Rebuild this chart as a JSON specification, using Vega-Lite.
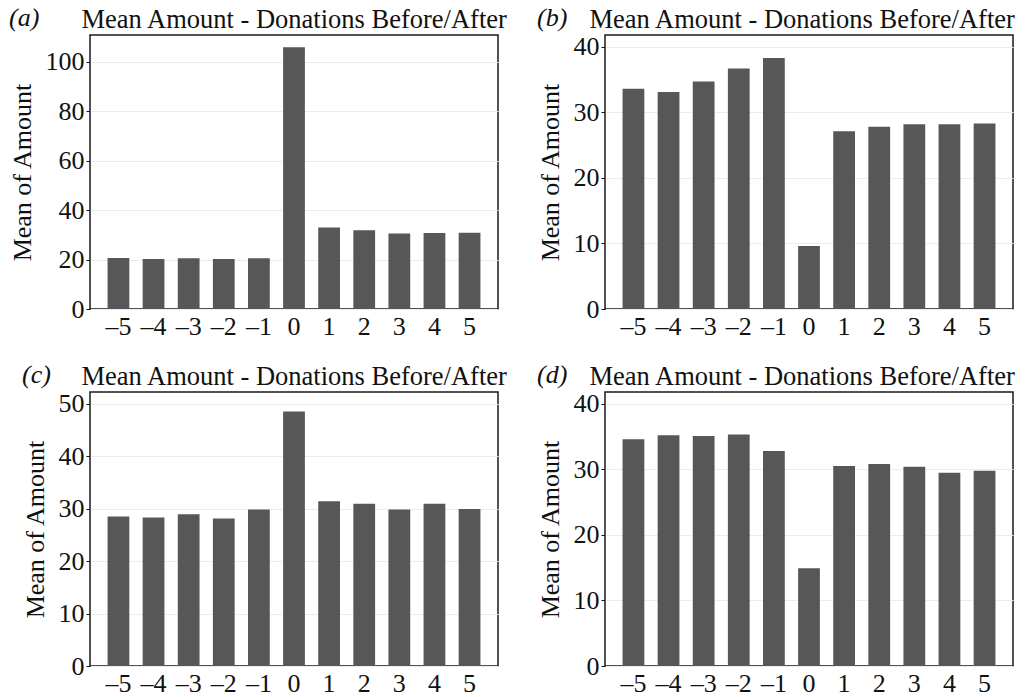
{
  "$schema": "https://vega.github.io/schema/vega-lite/v6.json",
  "background": "white",
  "padding": {"left": 8, "top": 4, "right": 5, "bottom": 5},
  "datasets": {
    "a": [
      {"t": -5, "amount": 20.6}, {"t": -4, "amount": 20.2}, {"t": -3, "amount": 20.5}, {"t": -2, "amount": 20.2}, {"t": -1, "amount": 20.5},
      {"t": 0, "amount": 105.8}, {"t": 1, "amount": 33.0}, {"t": 2, "amount": 31.8}, {"t": 3, "amount": 30.5}, {"t": 4, "amount": 30.7}, {"t": 5, "amount": 30.8}
    ],
    "b": [
      {"t": -5, "amount": 33.6}, {"t": -4, "amount": 33.1}, {"t": -3, "amount": 34.7}, {"t": -2, "amount": 36.7}, {"t": -1, "amount": 38.3},
      {"t": 0, "amount": 9.6}, {"t": 1, "amount": 27.1}, {"t": 2, "amount": 27.8}, {"t": 3, "amount": 28.2}, {"t": 4, "amount": 28.2}, {"t": 5, "amount": 28.3}
    ],
    "c": [
      {"t": -5, "amount": 28.5}, {"t": -4, "amount": 28.3}, {"t": -3, "amount": 28.9}, {"t": -2, "amount": 28.1}, {"t": -1, "amount": 29.8},
      {"t": 0, "amount": 48.5}, {"t": 1, "amount": 31.4}, {"t": 2, "amount": 30.9}, {"t": 3, "amount": 29.8}, {"t": 4, "amount": 30.9}, {"t": 5, "amount": 29.9}
    ],
    "d": [
      {"t": -5, "amount": 34.6}, {"t": -4, "amount": 35.2}, {"t": -3, "amount": 35.1}, {"t": -2, "amount": 35.3}, {"t": -1, "amount": 32.8},
      {"t": 0, "amount": 14.9}, {"t": 1, "amount": 30.5}, {"t": 2, "amount": 30.8}, {"t": 3, "amount": 30.4}, {"t": 4, "amount": 29.5}, {"t": 5, "amount": 29.8}
    ]
  },
  "config": {
    "font": "Liberation Serif",
    "view": {"stroke": "#1a1a1a", "strokeWidth": 1.5},
    "axis": {
      "labelFont": "Liberation Serif", "labelFontSize": 26, "labelColor": "#111",
      "titleFont": "Liberation Serif", "titleFontSize": 26.5, "titleFontWeight": "normal", "titleColor": "#111",
      "tickColor": "#111", "tickSize": 4, "domain": false,
      "gridColor": "#ececec", "gridWidth": 1
    },
    "title": {
      "font": "Liberation Serif", "fontSize": 26, "fontWeight": "normal", "fontStyle": "italic", "color": "#111",
      "anchor": "start", "frame": "bounds", "offset": 0, "dy": 29
    }
  },
  "bounds": "flush",
  "columns": 2,
  "spacing": {"row": 83, "column": 107},
  "concat": [
    {
      "data": {"name": "a"},
      "title": {"text": "(a)"},
      "width": 408, "height": 274,
      "resolve": {"axis": {"x": "independent"}},
      "layer": [
        {
          "mark": {"type": "bar", "color": "#575757"},
          "encoding": {
            "x": {"field": "t", "type": "ordinal", "title": null, "scale": {"paddingInner": 0.38, "paddingOuter": 0.5},
                  "axis": {"orient": "bottom", "labelAngle": 0, "ticks": false, "labelPadding": 4, "labelExpr": "replace(datum.label, '-', '\u2013')"}},
            "y": {"field": "amount", "type": "quantitative", "title": "Mean of Amount", "scale": {"domain": [0, 110.8], "nice": false},
                  "axis": {"values": [0, 20, 40, 60, 80, 100], "titlePadding": 10, "titleFontSize": 26}}
          }
        },
        {
          "mark": {"type": "bar", "opacity": 0},
          "encoding": {
            "x": {"field": "t", "type": "ordinal", "title": "Mean Amount - Donations Before/After",
                  "axis": {"orient": "top", "labels": false, "ticks": false, "grid": false, "titleAnchor": "start", "titleAlign": "left", "titleX": -9, "titleY": -8, "titleBaseline": "alphabetic"}}
          }
        }
      ]
    },
    {
      "data": {"name": "b"},
      "title": {"text": "(b)"},
      "width": 408, "height": 274,
      "resolve": {"axis": {"x": "independent"}},
      "layer": [
        {
          "mark": {"type": "bar", "color": "#575757"},
          "encoding": {
            "x": {"field": "t", "type": "ordinal", "title": null, "scale": {"paddingInner": 0.38, "paddingOuter": 0.5},
                  "axis": {"orient": "bottom", "labelAngle": 0, "ticks": false, "labelPadding": 4, "labelExpr": "replace(datum.label, '-', '\u2013')"}},
            "y": {"field": "amount", "type": "quantitative", "title": "Mean of Amount", "scale": {"domain": [0, 41.8], "nice": false},
                  "axis": {"values": [0, 10, 20, 30, 40], "titlePadding": 10, "titleFontSize": 26}}
          }
        },
        {
          "mark": {"type": "bar", "opacity": 0},
          "encoding": {
            "x": {"field": "t", "type": "ordinal", "title": "Mean Amount - Donations Before/After",
                  "axis": {"orient": "top", "labels": false, "ticks": false, "grid": false, "titleAnchor": "start", "titleAlign": "left", "titleX": -16, "titleY": -8, "titleBaseline": "alphabetic"}}
          }
        }
      ]
    },
    {
      "data": {"name": "c"},
      "title": {"text": "(c)"},
      "width": 408, "height": 274,
      "resolve": {"axis": {"x": "independent"}},
      "layer": [
        {
          "mark": {"type": "bar", "color": "#575757"},
          "encoding": {
            "x": {"field": "t", "type": "ordinal", "title": null, "scale": {"paddingInner": 0.38, "paddingOuter": 0.5},
                  "axis": {"orient": "bottom", "labelAngle": 0, "ticks": false, "labelPadding": 4, "labelExpr": "replace(datum.label, '-', '\u2013')"}},
            "y": {"field": "amount", "type": "quantitative", "title": "Mean of Amount", "scale": {"domain": [0, 52.2], "nice": false},
                  "axis": {"values": [0, 10, 20, 30, 40, 50], "titlePadding": 10, "titleFontSize": 26}}
          }
        },
        {
          "mark": {"type": "bar", "opacity": 0},
          "encoding": {
            "x": {"field": "t", "type": "ordinal", "title": "Mean Amount - Donations Before/After",
                  "axis": {"orient": "top", "labels": false, "ticks": false, "grid": false, "titleAnchor": "start", "titleAlign": "left", "titleX": -9, "titleY": -8, "titleBaseline": "alphabetic"}}
          }
        }
      ]
    },
    {
      "data": {"name": "d"},
      "title": {"text": "(d)"},
      "width": 408, "height": 274,
      "resolve": {"axis": {"x": "independent"}},
      "layer": [
        {
          "mark": {"type": "bar", "color": "#575757"},
          "encoding": {
            "x": {"field": "t", "type": "ordinal", "title": null, "scale": {"paddingInner": 0.38, "paddingOuter": 0.5},
                  "axis": {"orient": "bottom", "labelAngle": 0, "ticks": false, "labelPadding": 4, "labelExpr": "replace(datum.label, '-', '\u2013')"}},
            "y": {"field": "amount", "type": "quantitative", "title": "Mean of Amount", "scale": {"domain": [0, 41.8], "nice": false},
                  "axis": {"values": [0, 10, 20, 30, 40], "titlePadding": 10, "titleFontSize": 26}}
          }
        },
        {
          "mark": {"type": "bar", "opacity": 0},
          "encoding": {
            "x": {"field": "t", "type": "ordinal", "title": "Mean Amount - Donations Before/After",
                  "axis": {"orient": "top", "labels": false, "ticks": false, "grid": false, "titleAnchor": "start", "titleAlign": "left", "titleX": -16, "titleY": -8, "titleBaseline": "alphabetic"}}
          }
        }
      ]
    }
  ]
}
